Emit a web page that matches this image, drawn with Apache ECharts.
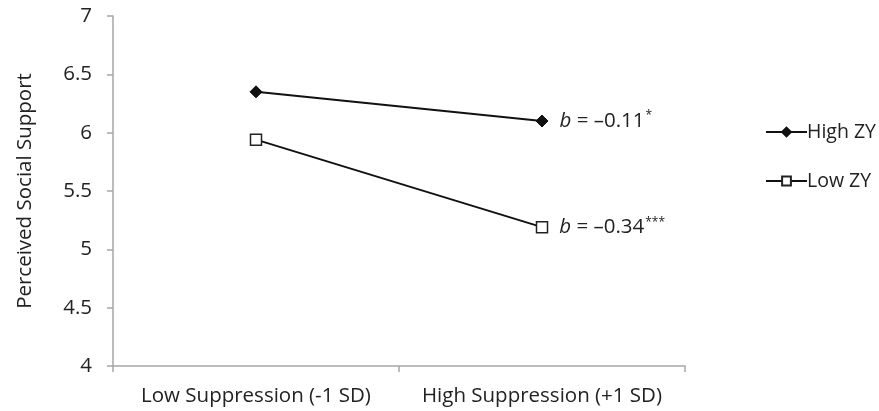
<!DOCTYPE html>
<html>
<head>
<meta charset="utf-8">
<script src="https://cdn.jsdelivr.net/npm/echarts@6/dist/echarts.min.js"></script>
<style>
html,body{margin:0;padding:0;background:#fff;}
#chart{width:879px;height:411px;}
</style>
</head>
<body>
<div id="chart"></div>
<script>
const categories = ['Low Suppression (-1 SD)', 'High Suppression (+1 SD)'];
const seriesNames = ['High ZY', 'Low ZY'];
const highZY = [6.35, 6.10];
const lowZY = [5.94, 5.19];
const slopeValues = ['\u20130.11', '\u20130.34'];
const slopeStars = ['*', '***'];
const yTicks = { min: 4, max: 7, interval: 0.5 };

const FONT = 'Open Sans';
const FS = 20.5;
const TXT = '#222222';
const AXIS = '#a6a6a6';

function slopeLabel(i) {
  return {
    show: true,
    position: 'right',
    distance: 11,
    formatter: '{b|b}{t| = ' + slopeValues[i] + '}{s|' + slopeStars[i] + '}',
    rich: {
      b: { fontFamily: FONT, fontSize: FS, fontStyle: 'italic', color: TXT },
      t: { fontFamily: FONT, fontSize: FS, color: TXT },
      s: { fontFamily: FONT, fontSize: 12, color: TXT, verticalAlign: 'top', padding: [0, 0, 10, 1] }
    }
  };
}

function buildData(values, labelIdx) {
  return values.map((v, j) => j === values.length - 1 ? { value: v, label: slopeLabel(labelIdx) } : v);
}

const chart = echarts.init(document.getElementById('chart'), null, { renderer: 'canvas' });
chart.setOption({
  animation: false,
  backgroundColor: '#fff',
  textStyle: { fontFamily: FONT, color: TXT },
  grid: { left: 113, right: 194, top: 16, bottom: 45, containLabel: false },
  legend: {
    orient: 'vertical',
    left: 760,
    top: 117,
    itemWidth: 41,
    itemHeight: 11,
    itemGap: 29,
    textStyle: { fontFamily: FONT, fontSize: 19.5, color: TXT, padding: [0, 0, 0, -5] },
    data: seriesNames
  },
  xAxis: {
    type: 'category',
    data: categories,
    boundaryGap: true,
    axisLine: { lineStyle: { color: AXIS, width: 1.5 } },
    axisTick: { show: true, length: 6, lineStyle: { color: AXIS, width: 1.5 } },
    axisLabel: { fontFamily: FONT, fontSize: FS, color: TXT, margin: 20, interval: 0 },
    splitLine: { show: false }
  },
  yAxis: {
    type: 'value',
    min: yTicks.min,
    max: yTicks.max,
    interval: yTicks.interval,
    name: 'Perceived Social Support',
    nameLocation: 'middle',
    nameGap: 77,
    nameTextStyle: { fontFamily: FONT, fontSize: FS, color: TXT },
    axisLine: { show: true, lineStyle: { color: AXIS, width: 1.5 } },
    axisTick: { show: true, length: 6, lineStyle: { color: AXIS, width: 1.5 } },
    axisLabel: { fontFamily: FONT, fontSize: FS, color: TXT, margin: 21 },
    splitLine: { show: false }
  },
  series: [
    {
      name: seriesNames[0],
      type: 'line',
      data: buildData(highZY, 0),
      symbol: 'diamond',
      symbolSize: 12,
      lineStyle: { color: '#111', width: 2 },
      itemStyle: { color: '#111', borderColor: '#111', borderWidth: 1 }
    },
    {
      name: seriesNames[1],
      type: 'line',
      data: buildData(lowZY, 1),
      symbol: 'rect',
      symbolSize: 11,
      lineStyle: { color: '#111', width: 2 },
      itemStyle: { color: '#fff', borderColor: '#222', borderWidth: 1.5 }
    }
  ]
});
</script>
</body>
</html>
